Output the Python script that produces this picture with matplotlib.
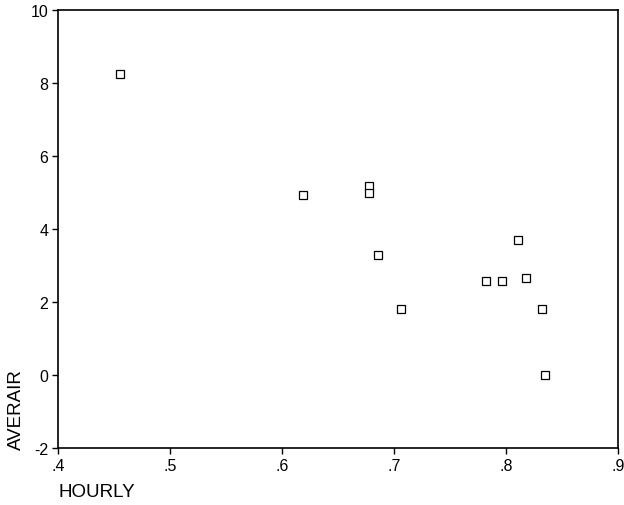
import matplotlib
matplotlib.use("Agg")
import matplotlib.pyplot as plt

hourly = [0.455, 0.619, 0.678, 0.678, 0.686, 0.706, 0.782, 0.796, 0.811, 0.818, 0.832, 0.835]
averair = [8.25, 4.93, 5.18, 4.99, 3.29, 1.81, 2.58, 2.58, 3.70, 2.66, 1.81, 0.0]
xticks = [0.4, 0.5, 0.6, 0.7, 0.8, 0.9]
xticklabels = [".4", ".5", ".6", ".7", ".8", ".9"]
yticks = [-2, 0, 2, 4, 6, 8, 10]

plt.rcParams['font.family'] = ['Liberation Sans', 'DejaVu Sans']
plt.rcParams['axes.unicode_minus'] = False

fig = plt.figure(figsize=(6.24, 5.06), dpi=100)
ax = fig.add_axes([58/624, 1-449/506, (618-58)/624, (449-11)/506])
ax.plot(hourly, averair, linestyle='none', marker='s', markersize=5.2,
        markerfacecolor='white', markeredgecolor='black', markeredgewidth=0.9)
ax.set_xlim(0.4, 0.9)
ax.set_ylim(-2, 10)
ax.set_xticks(xticks)
ax.set_xticklabels(xticklabels)
ax.set_yticks(yticks)
ax.tick_params(direction='out', length=4, width=1, labelsize=11.5, pad=3)
for s in ax.spines.values():
    s.set_linewidth(1.2)
fig.text(58/624, 1-493/506, "HOURLY", fontsize=13.5, ha='left', va='center')
fig.text(16/624, 1-450/506, "AVERAIR", fontsize=13.5, ha='center', va='bottom', rotation=90)
fig.savefig("out.png", dpi=100)
